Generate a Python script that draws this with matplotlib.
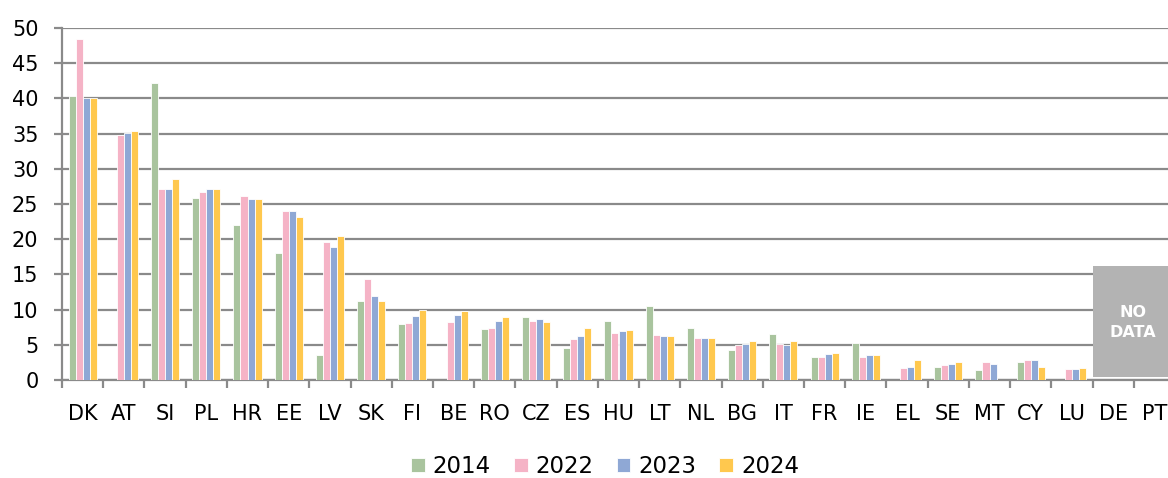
import numpy as np
import matplotlib
matplotlib.use("Agg")
import matplotlib.pyplot as plt
from matplotlib.patches import Rectangle

countries = ["DK", "AT", "SI", "PL", "HR", "EE", "LV", "SK", "FI", "BE", "RO", "CZ", "ES",
             "HU", "LT", "NL", "BG", "IT", "FR", "IE", "EL", "SE", "MT", "CY", "LU", "DE", "PT"]

nan = np.nan
v2014 = [40.3, nan, 42.2, 25.9, 22.0, 18.0, 3.5, 11.2, 7.9, nan, 7.2, 9.0, 4.6,
         8.4, 10.5, 7.4, 4.3, 6.5, 3.3, 5.3, nan, 1.9, 1.4, 2.6, nan, nan, nan]
v2022 = [48.5, 34.8, 27.2, 26.7, 26.2, 24.0, 19.6, 14.4, 8.1, 8.3, 7.4, 8.4, 5.8,
         6.7, 6.4, 6.0, 5.0, 5.1, 3.3, 3.3, 1.75, 2.1, 2.5, 2.8, 1.6, nan, nan]
v2023 = [40.1, 35.1, 27.1, 27.1, 25.7, 24.0, 18.9, 12.0, 9.1, 9.3, 8.4, 8.6, 6.2,
         6.9, 6.2, 6.0, 5.1, 5.0, 3.7, 3.5, 1.9, 2.3, 2.3, 2.8, 1.6, nan, nan]
v2024 = [40.0, 35.4, 28.6, 27.2, 25.7, 23.1, 20.5, 11.2, 10.0, 9.8, 9.0, 8.3, 7.4,
         7.1, 6.2, 6.0, 5.5, 5.5, 3.8, 3.5, 2.8, 2.5, nan, 1.9, 1.75, nan, nan]

series = [("2014", v2014, "#A9C49E"), ("2022", v2022, "#F5B3C6"),
          ("2023", v2023, "#8FA8D5"), ("2024", v2024, "#FFC84E")]

fig = plt.figure(figsize=(11.68, 4.78), dpi=100)
ax = fig.add_axes([62 / 1168, 98 / 478, 1113 / 1168, 352 / 478])

x = np.arange(len(countries))
w = 0.17
for i, (name, vals, col) in enumerate(series):
    ax.bar(x + (i - 1.5) * w, vals, w, color=col, edgecolor="white", linewidth=0.6,
           label=name, zorder=3)

ax.set_xlim(-0.5, len(countries) - 0.5)
ax.set_ylim(0, 50)
ax.set_yticks(range(0, 51, 5))
ax.yaxis.grid(True, color="#8a8a8a", linewidth=1.6, zorder=0)
ax.set_axisbelow(True)

ax.set_xticks(x)
ax.set_xticklabels(countries, fontsize=15)
ax.set_xticks(np.arange(-0.5, len(countries), 1), minor=True)
ax.tick_params(axis="x", which="major", length=0, pad=17)
ax.tick_params(axis="x", which="minor", length=6, width=1.6, color="#8a8a8a")
ax.tick_params(axis="y", length=6, width=1.6, color="#8a8a8a", labelsize=15, pad=11)

for s in ["top", "right"]:
    ax.spines[s].set_visible(False)
for s in ["left", "bottom"]:
    ax.spines[s].set_color("#8a8a8a")
    ax.spines[s].set_linewidth(1.6)

# no data box for DE and PT
ax.add_patch(Rectangle((24.5, 0.45), 2.3, 15.75, facecolor="#b3b3b3", edgecolor="none",
                       zorder=4, clip_on=False))
ax.text(25.47, 8.2, "NO\nDATA", ha="center", va="center", color="white",
        fontsize=11.5, fontweight="bold", zorder=5, linespacing=1.45)

handles, labels = ax.get_legend_handles_labels()
fig.legend(handles, labels, loc="center", bbox_to_anchor=(0.518, 0.024), ncol=4,
           frameon=False, fontsize=16.5, handlelength=0.6, handleheight=0.6,
           handletextpad=0.35, columnspacing=1.0)

fig.savefig("out.png", dpi=100)
